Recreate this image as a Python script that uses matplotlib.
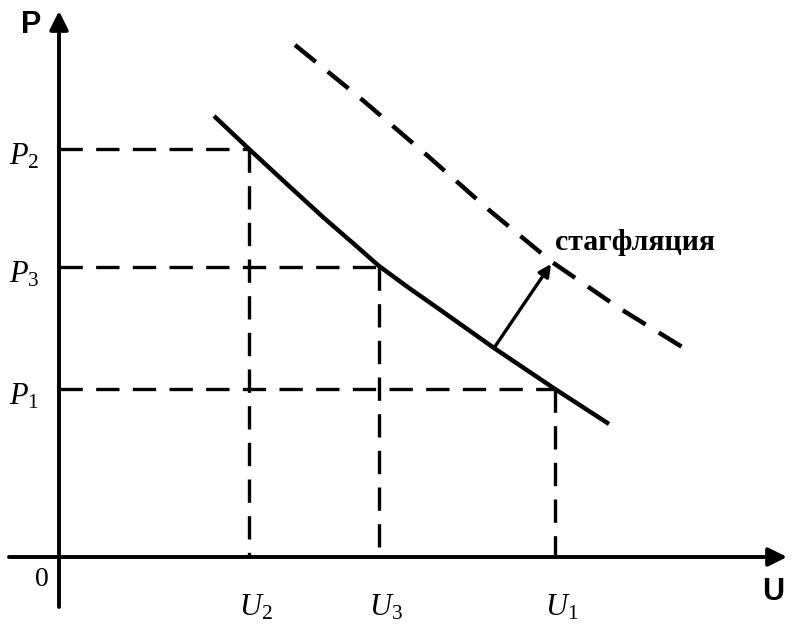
import matplotlib.pyplot as plt

plt.rcParams["mathtext.fontset"] = "custom"
plt.rcParams["mathtext.it"] = "Liberation Serif:italic"
plt.rcParams["mathtext.rm"] = "Liberation Serif"

# уровни цен и безработицы (в условных единицах от начала координат)
p_labels = ["$P_2$", "$P_3$", "$P_1$"]
p_levels = [408, 290, 168]
u_labels = ["$U_2$", "$U_3$", "$U_1$"]
u_levels = [190, 320, 496]

# кривая Филлипса (сплошная)
curve_x = [155, 190, 230, 265, 295, 320, 350, 380, 435, 496, 550]
curve_y = [441, 408, 371, 339, 313, 291, 269, 248, 209, 168, 133]

# сдвинутая кривая (стагфляция, пунктир)
shift_x = [236, 300, 370, 430, 493, 560, 628]
shift_y = [512, 460, 400, 347, 295, 249, 207]

# стрелка сдвига
arrow_from = (435, 209)
arrow_to = (492, 293)

fig = plt.figure(figsize=(7.96, 6.28), dpi=100)
ax = fig.add_axes([0, 0, 1, 1])
ax.set_xlim(-59, 737)
ax.set_ylim(-71, 557)
ax.axis("off")

# оси
ax.annotate("", xy=(728, 0), xytext=(-50, 0),
            arrowprops=dict(arrowstyle="-|>", lw=2.8, color="black",
                            mutation_scale=28, shrinkA=0, shrinkB=0))
ax.annotate("", xy=(0, 546), xytext=(0, -50),
            arrowprops=dict(arrowstyle="-|>", lw=2.8, color="black",
                            mutation_scale=28, shrinkA=0, shrinkB=0))
ax.text(-28, 532, "P", fontsize=22, fontweight="bold",
        family="Liberation Sans", ha="center", va="center")
ax.text(714, -35, "U", fontsize=22, fontweight="bold",
        family="Liberation Sans", ha="center", va="center")
ax.text(-17, -22, "0", fontsize=20, family="Liberation Serif",
        ha="center", va="center")

# пунктирные проекции
for u, p in zip(u_levels, p_levels):
    ax.plot([0, u], [p, p], color="black", lw=2.4, ls=(0, (7, 4)))
    ax.plot([u, u], [p, 0], color="black", lw=2.4, ls=(0, (7, 4)))

for lab, p in zip(p_labels, p_levels):
    ax.text(-35, p - 7, lab, fontsize=22, ha="center", va="center")
for lab, u in zip(u_labels, u_levels):
    ax.text(u + 7, -50, lab, fontsize=22, ha="center", va="center")

# кривые
ax.plot(curve_x, curve_y, color="black", lw=3.2, solid_capstyle="butt",
        solid_joinstyle="round")
ax.plot(shift_x, shift_y, color="black", lw=3.2, ls=(0, (6, 3.5)))

ax.annotate("", xy=arrow_to, xytext=arrow_from,
            arrowprops=dict(arrowstyle="-|>", lw=2.4, color="black",
                            mutation_scale=18, shrinkA=0, shrinkB=0))
ax.text(496, 314, "стагфляция", fontsize=21.5, fontweight="bold",
        family="Liberation Serif", ha="left", va="center")

fig.savefig("out.png", dpi=100)
